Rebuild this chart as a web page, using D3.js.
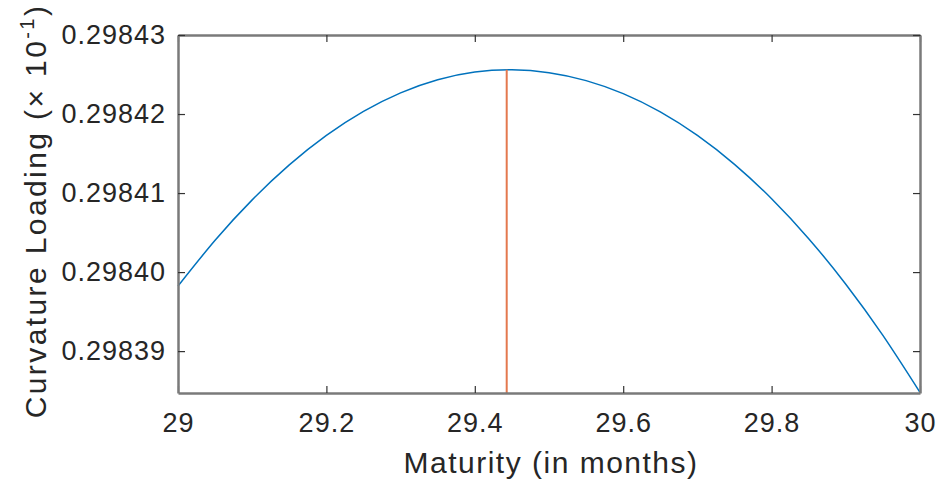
<!DOCTYPE html>
<html>
<head>
<meta charset="utf-8">
<script src="https://cdn.jsdelivr.net/npm/d3@7"></script>
<style>
  body { margin: 0; background: #fff; }
  svg text { font-family: 'Liberation Sans', Arial, sans-serif; fill: #262626; }
</style>
</head>
<body>
<div id="chart"></div>
<script>
// maturity (months) and curvature loading
const maturity = [29.00, 29.05, 29.10, 29.15, 29.20, 29.25, 29.30, 29.35, 29.40, 29.45, 29.50,
                  29.55, 29.60, 29.65, 29.70, 29.75, 29.80, 29.85, 29.90, 29.95, 30.00];
const loading = [0.29839823, 0.29840403, 0.29840914, 0.29841356, 0.29841729, 0.29842033,
                 0.29842268, 0.29842434, 0.29842531, 0.29842559, 0.29842523, 0.29842423,
                 0.29842258, 0.29842027, 0.29841729, 0.29841363, 0.29840928, 0.29840423,
                 0.29839847, 0.29839199, 0.29838478];
// vertical marker at the maximum
const peakX = [29.443, 29.443];
const peakY = [0.29842559, 0.2983847];

const xTicks = [29, 29.2, 29.4, 29.6, 29.8, 30];
const xTickLabels = ['29', '29.2', '29.4', '29.6', '29.8', '30'];
const yTicks = [0.29839, 0.29840, 0.29841, 0.29842, 0.29843];
const yTickLabels = ['0.29839', '0.29840', '0.29841', '0.29842', '0.29843'];

const W = 943, H = 489;
const margin = { top: 35, right: 23, bottom: 96, left: 178 };
const width = W - margin.left - margin.right;
const height = H - margin.top - margin.bottom;

const svg = d3.select('#chart').append('svg')
  .attr('width', W).attr('height', H);

const x = d3.scaleLinear().domain([29, 30]).range([0, width]);
const y = d3.scaleLinear().domain([0.2983847, 0.29843]).range([height, 0]);

const g = svg.append('g').attr('transform', `translate(${margin.left},${margin.top})`);

const axisColor = '#7a7a7a';
const tickLen = 7;

// lines
const line = d3.line().x(d => x(d[0])).y(d => y(d[1]));
g.append('path')
  .datum(d3.zip(maturity, loading))
  .attr('d', line.curve(d3.curveNatural))
  .attr('fill', 'none')
  .attr('stroke', '#0072BD')
  .attr('stroke-width', 1.5);

g.append('path')
  .datum(d3.zip(peakX, peakY))
  .attr('d', d3.line().x(d => x(d[0])).y(d => y(d[1])))
  .attr('fill', 'none')
  .attr('stroke', '#E4784E')
  .attr('stroke-width', 2);

// axes (ticks inside, box on)
const styleAxis = sel => {
  sel.select('.domain').attr('stroke', axisColor).attr('stroke-width', 2.5);
  sel.selectAll('.tick line').attr('stroke', '#333').attr('stroke-width', 1.2);
  sel.selectAll('.tick text').attr('font-size', 27).attr('fill', '#262626')
     .attr('letter-spacing', 1)
     .style('font-family', "'Liberation Sans', Arial, sans-serif");
};

g.append('g')
  .attr('transform', `translate(0,${height})`)
  .call(d3.axisBottom(x).tickValues(xTicks).tickFormat((d, i) => xTickLabels[i])
    .tickSizeInner(-tickLen).tickSizeOuter(0).tickPadding(20))
  .call(styleAxis);

g.append('g')
  .call(d3.axisTop(x).tickValues(xTicks).tickFormat('')
    .tickSizeInner(-tickLen).tickSizeOuter(0))
  .call(styleAxis);

g.append('g')
  .call(d3.axisLeft(y).tickValues(yTicks).tickFormat((d, i) => yTickLabels[i])
    .tickSizeInner(-tickLen).tickSizeOuter(0).tickPadding(12))
  .call(styleAxis);

g.append('g')
  .attr('transform', `translate(${width},0)`)
  .call(d3.axisRight(y).tickValues(yTicks).tickFormat('')
    .tickSizeInner(-tickLen).tickSizeOuter(0))
  .call(styleAxis);

// axis labels
svg.append('text')
  .attr('x', margin.left + width / 2 + 2)
  .attr('y', 473)
  .attr('text-anchor', 'middle')
  .attr('font-size', 30)
  .attr('letter-spacing', 1.5)
  .text('Maturity (in months)');

const yl = svg.append('text')
  .attr('transform', `translate(46,211) rotate(-90)`)
  .attr('text-anchor', 'middle')
  .attr('font-size', 30)
  .attr('letter-spacing', 2.4);
yl.append('tspan').text('Curvature Loading (\u00d7 10');
yl.append('tspan').attr('font-size', 20).attr('dy', -12).text('-1');
yl.append('tspan').attr('dy', 12).text(')');
</script>
</body>
</html>
